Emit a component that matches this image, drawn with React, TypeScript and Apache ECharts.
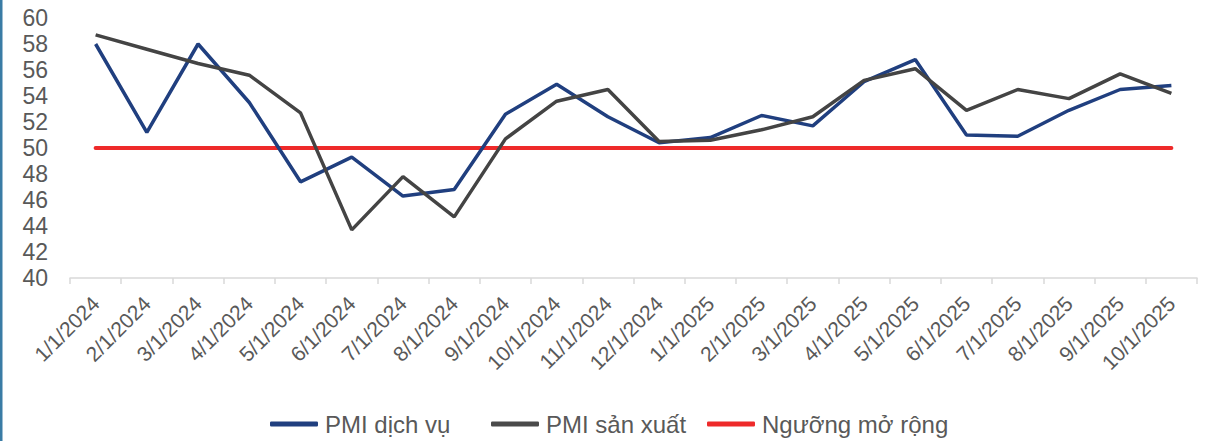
import React, { useEffect, useRef } from "react";
import * as echarts from "echarts";

const categories = [
  "1/1/2024", "2/1/2024", "3/1/2024", "4/1/2024", "5/1/2024", "6/1/2024",
  "7/1/2024", "8/1/2024", "9/1/2024", "10/1/2024", "11/1/2024", "12/1/2024",
  "1/1/2025", "2/1/2025", "3/1/2025", "4/1/2025", "5/1/2025", "6/1/2025",
  "7/1/2025", "8/1/2025", "9/1/2025", "10/1/2025",
];

const pmiServices = [
  58.0, 51.2, 58.0, 53.5, 47.4, 49.3, 46.3, 46.8, 52.6, 54.9, 52.4, 50.4,
  50.8, 52.5, 51.7, 55.1, 56.8, 51.0, 50.9, 52.9, 54.5, 54.8,
];

const pmiManufacturing = [
  58.7, 57.6, 56.5, 55.6, 52.7, 43.7, 47.8, 44.7, 50.7, 53.6, 54.5, 50.5,
  50.6, 51.4, 52.4, 55.2, 56.1, 52.9, 54.5, 53.8, 55.7, 54.2,
];

const threshold = categories.map(() => 50);

const seriesNames = ["PMI dịch vụ", "PMI sản xuất", "Ngưỡng mở rộng"];
const legendLefts = [270, 491, 707];

export default function App() {
  const ref = useRef<HTMLDivElement>(null);

  useEffect(() => {
    if (!ref.current) return;
    const chart = echarts.init(ref.current, null, { renderer: "svg" });
    const font = "'Liberation Sans', Arial, sans-serif";
    chart.setOption({
      animation: false,
      backgroundColor: "#ffffff",
      textStyle: { fontFamily: font },
      grid: { left: 70, right: 9, top: 18, bottom: 163, containLabel: false },
      legend: seriesNames.map((name, i) => ({
        left: legendLefts[i],
        top: 412,
        padding: 0,
        itemWidth: 48,
        itemHeight: 5,
        icon: "roundRect",
        textStyle: { fontSize: 24, color: "#595959", fontFamily: font, padding: [0, 0, 0, 2] },
        data: [name],
      })),
      xAxis: {
        type: "category",
        data: categories,
        boundaryGap: true,
        axisLine: { lineStyle: { color: "#d9d9d9", width: 1.5 } },
        axisTick: { show: true, length: 6, lineStyle: { color: "#d9d9d9", width: 1.5 } },
        axisLabel: {
          rotate: 45,
          interval: 0,
          fontSize: 21,
          color: "#595959",
          margin: 22,
          fontFamily: font,
        },
        splitLine: { show: false },
      },
      yAxis: {
        type: "value",
        min: 40,
        max: 60,
        interval: 2,
        axisLine: { show: false },
        axisTick: { show: false },
        splitLine: { show: false },
        axisLabel: { fontSize: 23, color: "#595959", margin: 22, fontFamily: font },
      },
      graphic: [
        {
          type: "rect",
          shape: { x: 0, y: 0, width: 2.5, height: 441 },
          style: { fill: "#3a7ca5" },
        },
      ],
      series: [
        {
          name: seriesNames[0],
          type: "line",
          data: pmiServices,
          symbol: "none",
          lineStyle: { color: "#203f7f", width: 3.5 },
          itemStyle: { color: "#203f7f" },
          z: 3,
        },
        {
          name: seriesNames[1],
          type: "line",
          data: pmiManufacturing,
          symbol: "none",
          lineStyle: { color: "#444444", width: 3.5 },
          itemStyle: { color: "#4a4a4a" },
          z: 4,
        },
        {
          name: seriesNames[2],
          type: "line",
          data: threshold,
          symbol: "none",
          lineStyle: { color: "#ee2a2a", width: 4, cap: "round" },
          itemStyle: { color: "#ee2a2a" },
          z: 2,
        },
      ],
    });
    return () => chart.dispose();
  }, []);

  return <div ref={ref} style={{ width: 1206, height: 441, position: "absolute", left: 0, top: 0 }} />;
}
